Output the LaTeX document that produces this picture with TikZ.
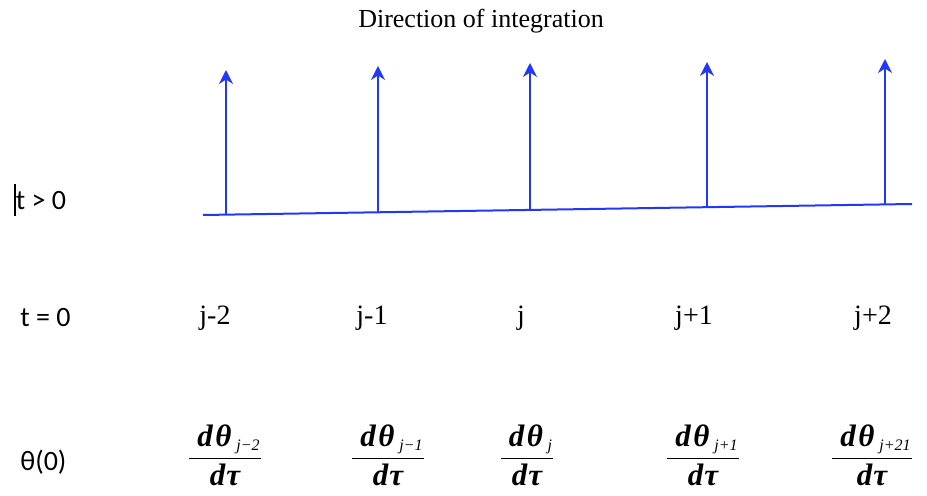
\documentclass[tikz,border=0pt]{standalone}
\usepackage{fontspec}
\usepackage{amsmath}
\setmainfont{Liberation Serif}
\newfontfamily\sidefont{Carlito}
\usetikzlibrary{arrows.meta}
\definecolor{gridblue}{RGB}{35,55,250}
\newcommand\ratefrac[1]{$\dfrac{\;\text{\bfseries\itshape d\kern0.08em θ}\,{}_{\text{\itshape\footnotesize #1}}}{\text{\bfseries\itshape d\kern0.04em τ}}$}
\tikzset{
  axisline/.style={draw=gridblue, line width=1pt},
  uparrow/.style={draw=gridblue, line width=1pt, -{Stealth[length=7pt,width=7pt]}},
  sidelabel/.style={anchor=west, inner sep=0pt, font=\sidefont\fontsize{14}{16}\selectfont},
  idxlabel/.style={inner sep=0pt, font=\fontsize{14}{16}\selectfont},
  ratelabel/.style={inner sep=0pt, font=\fontsize{15.5}{18}\selectfont}
}
\begin{document}
\begin{tikzpicture}[x=0.5pt,y=-0.5pt]
    \useasboundingbox (0,0) rectangle (927,496);
    \node[inner sep=0pt, font=\fontsize{13}{15}\selectfont] (title) at (481,21) {Direction of integration};

    % rows on the left
    \node[sidelabel] (tpos) at (14,200) {\rule[-0.25em]{0.7pt}{1.15em}t > 0};
    \node[sidelabel] (tzero) at (20,318) {t = 0};
    \node[sidelabel] (theta) at (20,462) {θ(0)};

    % line at t > 0
    \coordinate (lstart) at (203,215);
    \coordinate (lend) at (912,204);
    \draw[axisline] (lstart) -- (lend);

    \foreach \n/\x/\yb/\yt/\lx/\lab/\fx/\sub in {
        1/226/214.6/70/215/j-2/225/j−2,
        2/378/212.3/66/372/j-1/388/j−1,
        3/530/209.9/63/521/j/527/j,
        4/707/207.2/62/694/j+1/703/j+1,
        5/885/204.4/59/873/j+2/872/j+21}{
      \coordinate (base\n) at (\x,\yb);
      \coordinate (tip\n) at (\x,\yt);
      \draw[uparrow] (base\n) -- (tip\n);
      \node[idxlabel] (idx\n) at (\lx,318) {\lab};
      \node[ratelabel] (rate\n) at (\fx,455) {\ratefrac{\sub}};
    }
  \end{tikzpicture}
\end{document}
